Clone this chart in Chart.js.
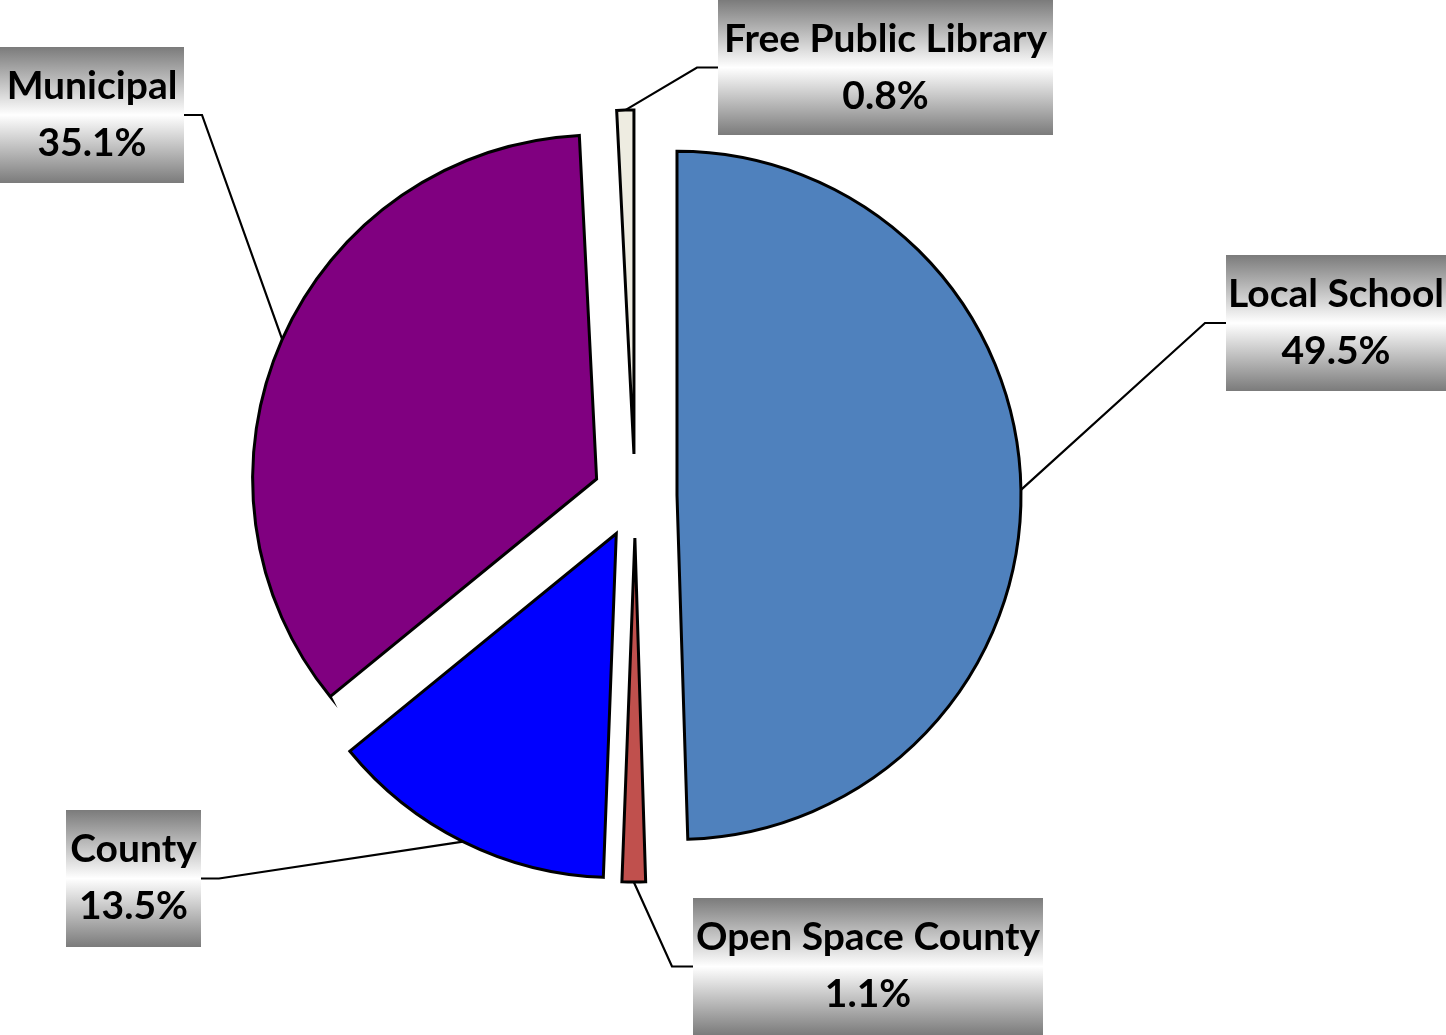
<!DOCTYPE html>
<html>
<head>
<meta charset="utf-8">
<script src="https://cdn.jsdelivr.net/npm/chart.js@4.4.1/dist/chart.umd.min.js"></script>
<style>
html,body{margin:0;padding:0;background:#fff;}
#wrap{width:1446px;height:1035px;position:relative;}
</style>
</head>
<body>
<div id="wrap"><canvas id="c" width="1446" height="1035"></canvas></div>
<script>
const categories = ["Local School", "Open Space County", "County", "Municipal", "Free Public Library"];
const shares = [49.5, 1.1, 13.5, 35.1, 0.8];
const valueLabels = ["49.5%", "1.1%", "13.5%", "35.1%", "0.8%"];
const sliceColors = ["#4F81BD", "#C0504D", "#0000FF", "#800080", "#EEECE1"];

// explode distance for every slice (px)
const EXPLODE = 42;

// label box layout (x, y, w, h) and which side the leader attaches
const boxLayout = [
  {x:1226, y:255, w:220, h:136, side:"left"},
  {x:693,  y:898, w:350, h:137, side:"left"},
  {x:66,   y:810, w:135, h:137, side:"right"},
  {x:0,    y:47,  w:184, h:136, side:"right"},
  {x:718,  y:0,   w:335, h:135, side:"left"}
];

// Explode slices uniformly (translate along mid angle, keep radius)
const origArcDraw = Chart.ArcElement.prototype.draw;
Chart.ArcElement.prototype.draw = function(ctx) {
  const mid = (this.startAngle + this.endAngle) / 2;
  ctx.save();
  ctx.translate(Math.cos(mid) * EXPLODE, Math.sin(mid) * EXPLODE);
  origArcDraw.call(this, ctx);
  ctx.restore();
};

const labelPlugin = {
  id: 'boxLabels',
  afterDatasetsDraw(chart) {
    const ctx = chart.ctx;
    const meta = chart.getDatasetMeta(0);
    meta.data.forEach((el, i) => {
      const b = boxLayout[i];
      const props = el.getProps(['x','y','startAngle','endAngle','outerRadius'], true);
      const mid = (props.startAngle + props.endAngle) / 2;
      const px = props.x + Math.cos(mid) * (EXPLODE + props.outerRadius);
      const py = props.y + Math.sin(mid) * (EXPLODE + props.outerRadius);
      const cy = b.y + b.h / 2;
      const ex = b.side === "left" ? b.x : b.x + b.w;
      const elbow = b.side === "left" ? ex - 21 : ex + 18;
      ctx.save();
      ctx.strokeStyle = "#000";
      ctx.lineWidth = 2.2;
      ctx.beginPath();
      ctx.moveTo(px, py);
      ctx.lineTo(elbow, cy);
      ctx.lineTo(ex, cy);
      ctx.stroke();
      const g = ctx.createLinearGradient(0, b.y, 0, b.y + b.h);
      g.addColorStop(0, "#7b7b7b");
      g.addColorStop(0.5, "#ffffff");
      g.addColorStop(1, "#7b7b7b");
      ctx.fillStyle = g;
      ctx.fillRect(b.x, b.y, b.w, b.h);
      ctx.fillStyle = "#000";
      ctx.font = "bold 39px Lato, 'Open Sans', sans-serif";
      ctx.textAlign = "center";
      ctx.textBaseline = "middle";
      const tx = b.x + b.w / 2;
      ctx.fillText(categories[i], tx, b.y + 39);
      ctx.fillText(valueLabels[i], tx, b.y + 96);
      ctx.restore();
    });
  }
};

new Chart(document.getElementById('c'), {
  type: 'pie',
  data: {
    labels: categories,
    datasets: [{
      data: shares,
      backgroundColor: sliceColors,
      borderColor: "#000",
      borderWidth: 3,
      borderJoinStyle: 'miter'
    }]
  },
  options: {
    responsive: false,
    animation: false,
    radius: 344,
    layout: { padding: { left: 0, right: 176, top: 0, bottom: 43 } },
    plugins: {
      legend: { display: false },
      tooltip: { enabled: false }
    }
  },
  plugins: [labelPlugin]
});
</script>
</body>
</html>
